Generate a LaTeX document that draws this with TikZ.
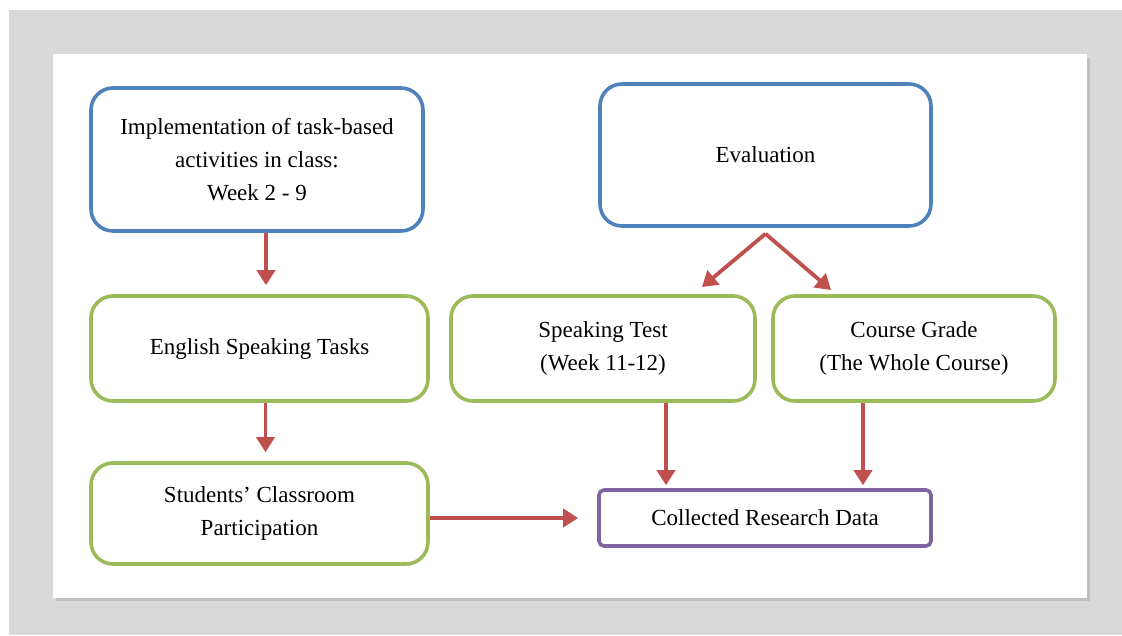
\documentclass[tikz,border=0pt]{standalone}
\usepackage{fontspec}
\setmainfont{Liberation Serif}
\usepackage{xcolor}
\definecolor{bluebox}{HTML}{4F81BD}
\definecolor{greenbox}{HTML}{9BBB59}
\definecolor{purplebox}{HTML}{8064A2}
\definecolor{redarrow}{HTML}{C0504D}
\definecolor{pagegray}{HTML}{D9D9D9}
\usetikzlibrary{arrows.meta}

\begin{document}
\begin{tikzpicture}[x=1pt,y=-1pt,
  box/.style={draw, rectangle, rounded corners=22pt, line width=3.6pt, fill=white,
    align=center, font=\fontsize{23}{33}\selectfont, inner sep=0pt},
  planbox/.style={box, draw=bluebox},
  taskbox/.style={box, draw=greenbox},
  databox/.style={box, draw=purplebox, rounded corners=5pt},
  arr/.style={draw=redarrow, line width=3.8pt, -{Triangle[length=15pt,width=18pt]}}]
% Background
\fill[white] (0,0) rectangle (1122,635);
\fill[pagegray] (9,10) rectangle (1122,635);
\fill[black!25] (56,58) rectangle (1090,601);
\fill[white] (53,54) rectangle (1087,598);
\useasboundingbox (0,0) rectangle (1122,635);

% Nodes
\node[planbox, minimum width=332pt, minimum height=143pt] (impl) at (257,159.5) {Implementation of task-based\\activities in class:\\Week 2 - 9};
\node[planbox, minimum width=331pt, minimum height=142pt] (eval) at (765.5,155) {Evaluation};
\node[taskbox, minimum width=337pt, minimum height=105pt] (tasks) at (259.5,348.5) {English Speaking Tasks};
\node[taskbox, minimum width=304pt, minimum height=105pt] (test) at (603,348.5) {Speaking Test\\(Week 11-12)};
\node[taskbox, minimum width=282pt, minimum height=105pt] (grade) at (914,348.5) {Course Grade\\(The Whole Course)};
\node[taskbox, minimum width=337pt, minimum height=101pt] (part) at (259.5,513.5) {Students' Classroom\\Participation};
\node[databox, minimum width=332pt, minimum height=56pt] (data) at (765,518) {Collected Research Data};
\coordinate (fork) at ([yshift=-6pt]eval.south);
\coordinate (tipL) at (702,287);
\coordinate (tipR) at (831,290);

% Arrows
\draw[arr, shorten >=9pt] ([xshift=9pt]impl.south) -- ([xshift=9pt]impl.south |- tasks.north);
\draw[arr, shorten >=9pt] ([xshift=6pt]tasks.south) -- ([xshift=6pt]tasks.south |- part.north);
\draw[arr] (fork) -- (tipL);
\draw[arr] (fork) -- (tipR);
\draw[arr, shorten >=3pt] ([xshift=63pt]test.south) -- ([xshift=63pt]test.south |- data.north);
\draw[arr, shorten >=3pt] ([xshift=-51pt]grade.south) -- ([xshift=-51pt]grade.south |- data.north);
\draw[arr, shorten >=19pt] (part.east |- data.west) -- (data.west);
\end{tikzpicture}
\end{document}
